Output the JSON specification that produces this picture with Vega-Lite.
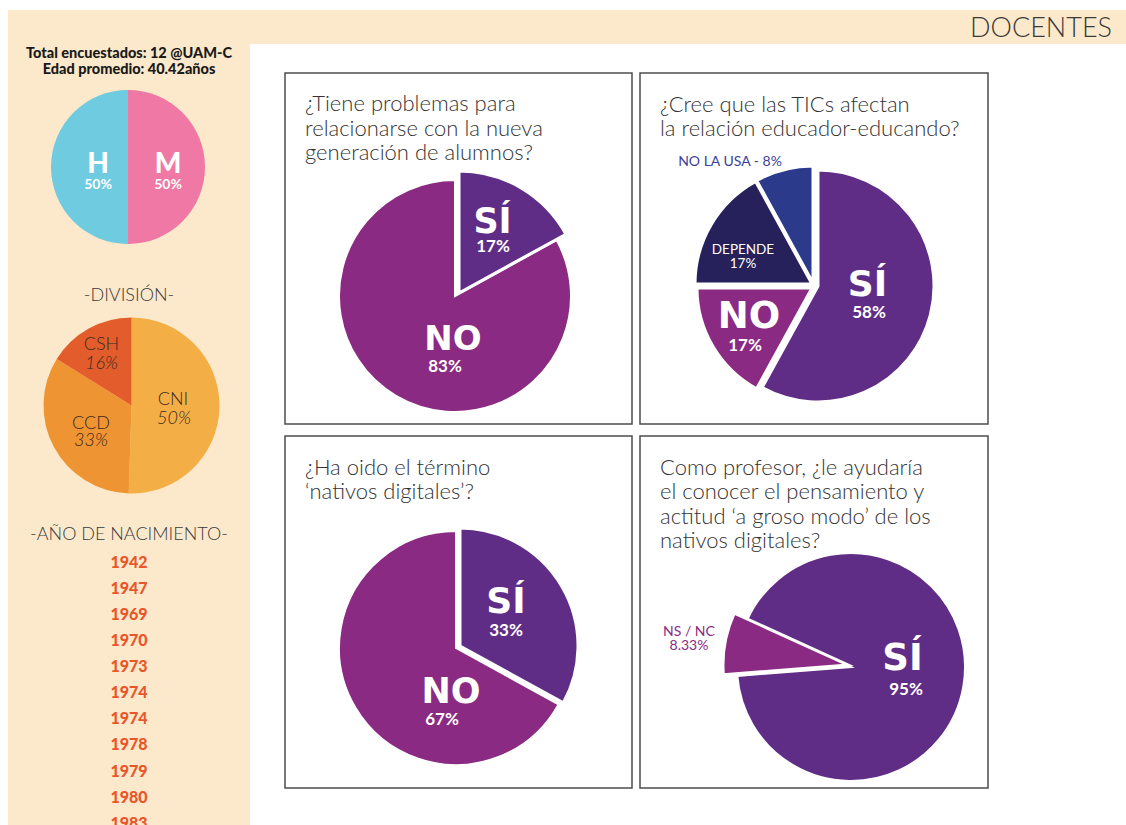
{
  "$schema": "https://vega.github.io/schema/vega-lite/v6.json",
  "padding": {"left": 8, "top": 10, "right": 0, "bottom": 0},
  "background": "white",
  "config": {"view": {"stroke": null}, "text": {"font": "Lato"}, "title": {"font": "Lato"}},
  "spacing": 0,
  "resolve": {"scale": {"theta": "independent"}},
  "vconcat": [
    {
      "width": 1118, "height": 34,
      "data": {"values": []},
      "mark": "point",
      "view": {"fill": "#fce9cb", "stroke": null},
      "title": {"text": "DOCENTES", "anchor": "end", "frame": "group", "offset": -33, "dx": -14, "fontSize": 27, "fontWeight": 300, "color": "#3a3a3a", "font": "Lato"}
    },
    {
      "hconcat": [
        {
          "vconcat": [
            {
              "width": 242, "height": 221,
              "view": {"fill": "#fce9cb", "stroke": null},
              "title": {"text": ["Total encuestados: 12 @UAM-C", "Edad promedio: 40.42años"], "anchor": "middle", "frame": "group", "offset": -33, "fontSize": 14.5, "fontWeight": 900, "color": "#1a1a1a", "lineHeight": 15.5, "font": "Lato"},
              "data": {"values": [{"k": 1, "a": "M", "v": 50, "p": "50%"}, {"k": 2, "a": "H", "v": 50, "p": "50%"}]},
              "transform": [{"stack": "v", "groupby": [], "sort": [{"field": "k", "order": "ascending"}], "as": ["t0", "t1"]}],
              "layer": [
                {"transform": [{"filter": "datum.a === 'M'"}], "mark": {"type": "arc", "radius": 77, "xOffset": -1, "yOffset": 12.5, "color": "#ef78a5"},
                 "encoding": {"theta": {"field": "t0", "type": "quantitative", "scale": {"domain": [0, 100]}}, "theta2": {"field": "t1"}}},
                {"transform": [{"filter": "datum.a === 'H'"}], "mark": {"type": "arc", "radius": 77, "xOffset": -1, "yOffset": 12.5, "color": "#6ecbe0"},
                 "encoding": {"theta": {"field": "t0", "type": "quantitative", "scale": {"domain": [0, 100]}}, "theta2": {"field": "t1"}}},
                {"transform": [{"filter": "datum.a === 'M'"}], "mark": {"type": "text", "dx": 39, "dy": 10.5, "fontSize": 28, "fontWeight": 900, "color": "white"}, "encoding": {"text": {"field": "a"}}},
                {"transform": [{"filter": "datum.a === 'M'"}], "mark": {"type": "text", "dx": 39, "dy": 30.5, "fontSize": 14, "fontWeight": 700, "color": "white"}, "encoding": {"text": {"field": "p"}}},
                {"transform": [{"filter": "datum.a === 'H'"}], "mark": {"type": "text", "dx": -31, "dy": 10.5, "fontSize": 28, "fontWeight": 900, "color": "white"}, "encoding": {"text": {"field": "a"}}},
                {"transform": [{"filter": "datum.a === 'H'"}], "mark": {"type": "text", "dx": -31, "dy": 30.5, "fontSize": 14, "fontWeight": 700, "color": "white"}, "encoding": {"text": {"field": "p"}}}
              ]
            },
            {
              "width": 242, "height": 255,
              "view": {"fill": "#fce9cb", "stroke": null},
              "title": {"text": "-DIVISIÓN-", "anchor": "middle", "frame": "group", "offset": -40, "fontSize": 18, "fontWeight": 300, "color": "#3a3a3a", "font": "Lato"},
              "data": {"values": [{"k": 1, "a": "CNI", "v": 50, "p": "50%"}, {"k": 2, "a": "CCD", "v": 33, "p": "33%"}, {"k": 3, "a": "CSH", "v": 16, "p": "16%"}]},
              "transform": [{"stack": "v", "groupby": [], "sort": [{"field": "k", "order": "ascending"}], "as": ["t0", "t1"]}],
              "layer": [
                {"transform": [{"filter": "datum.a === 'CNI'"}], "mark": {"type": "arc", "radius": 88, "xOffset": 2.5, "yOffset": 13, "color": "#f4ae46"},
                 "encoding": {"theta": {"field": "t0", "type": "quantitative", "scale": {"domain": [0, 99]}}, "theta2": {"field": "t1"}}},
                {"transform": [{"filter": "datum.a === 'CCD'"}], "mark": {"type": "arc", "radius": 88, "xOffset": 2.5, "yOffset": 13, "color": "#ee9433"},
                 "encoding": {"theta": {"field": "t0", "type": "quantitative", "scale": {"domain": [0, 99]}}, "theta2": {"field": "t1"}}},
                {"transform": [{"filter": "datum.a === 'CSH'"}], "mark": {"type": "arc", "radius": 88, "xOffset": 2.5, "yOffset": 13, "color": "#e25d2b"},
                 "encoding": {"theta": {"field": "t0", "type": "quantitative", "scale": {"domain": [0, 99]}}, "theta2": {"field": "t1"}}},
                {"transform": [{"filter": "datum.a === 'CNI'"}], "mark": {"type": "text", "dx": 44, "dy": 7.5, "fontSize": 18, "fontWeight": 300, "color": "#3b2a20"}, "encoding": {"text": {"field": "a"}}},
                {"transform": [{"filter": "datum.a === 'CNI'"}], "mark": {"type": "text", "dx": 45, "dy": 26.5, "fontSize": 18, "fontWeight": 300, "fontStyle": "italic", "color": "#3b2a20"}, "encoding": {"text": {"field": "p"}}},
                {"transform": [{"filter": "datum.a === 'CSH'"}], "mark": {"type": "text", "dx": -27.5, "dy": -47.5, "fontSize": 18, "fontWeight": 300, "color": "#3b2a20"}, "encoding": {"text": {"field": "a"}}},
                {"transform": [{"filter": "datum.a === 'CSH'"}], "mark": {"type": "text", "dx": -27.5, "dy": -28.5, "fontSize": 18, "fontWeight": 300, "fontStyle": "italic", "color": "#3b2a20"}, "encoding": {"text": {"field": "p"}}},
                {"transform": [{"filter": "datum.a === 'CCD'"}], "mark": {"type": "text", "dx": -38, "dy": 31.5, "fontSize": 18, "fontWeight": 300, "color": "#3b2a20"}, "encoding": {"text": {"field": "a"}}},
                {"transform": [{"filter": "datum.a === 'CCD'"}], "mark": {"type": "text", "dx": -38, "dy": 48, "fontSize": 18, "fontWeight": 300, "fontStyle": "italic", "color": "#3b2a20"}, "encoding": {"text": {"field": "p"}}}
              ]
            },
            {
              "width": 242, "height": 305,
              "view": {"fill": "#fce9cb", "stroke": null},
              "title": {"text": "-AÑO DE NACIMIENTO-", "anchor": "middle", "frame": "group", "offset": -24, "fontSize": 18, "fontWeight": 300, "color": "#3a3a3a", "font": "Lato"},
              "data": {"values": [
                {"n": 1, "year": "1942"}, {"n": 2, "year": "1947"}, {"n": 3, "year": "1969"}, {"n": 4, "year": "1970"},
                {"n": 5, "year": "1973"}, {"n": 6, "year": "1974"}, {"n": 7, "year": "1974"}, {"n": 8, "year": "1978"},
                {"n": 9, "year": "1979"}, {"n": 10, "year": "1980"}, {"n": 11, "year": "1983"}
              ]},
              "mark": {"type": "text", "fontSize": 16, "fontWeight": 900, "color": "#e8572a", "clip": true},
              "encoding": {
                "y": {"field": "n", "type": "ordinal", "scale": {"type": "point", "padding": 0, "range": [42.7, 303.7]}, "axis": null},
                "text": {"field": "year"}
              }
            }
          ],
          "spacing": 0,
          "resolve": {"scale": {"theta": "independent"}}
        },
        {
          "vconcat": [
            {"width": 10, "height": 18, "data": {"values": []}, "mark": "point"},
            {
              "hconcat": [
                {
                  "width": 347, "height": 351,
                  "view": {"stroke": "#4d4d4d", "strokeWidth": 1.5},
                  "title": {"text": ["¿Tiene problemas para", "relacionarse con la nueva", "generación de alumnos?"], "anchor": "start", "frame": "group", "offset": -92, "dx": 20, "fontSize": 22, "fontWeight": 300, "color": "#333333", "lineHeight": 24.5, "font": "Lato"},
                  "data": {"values": [{"k": 1, "a": "SÍ", "v": 17, "p": "17%"}, {"k": 2, "a": "NO", "v": 83, "p": "83%"}]},
                  "transform": [{"stack": "v", "groupby": [], "sort": [{"field": "k", "order": "ascending"}], "as": ["t0", "t1"]}],
                  "layer": [
                    {"transform": [{"filter": "datum.a === 'NO'"}], "mark": {"type": "arc", "radius": 116, "xOffset": -3.5, "yOffset": 47.5, "color": "#8a2a82", "stroke": "white", "strokeWidth": 2},
                     "encoding": {"theta": {"field": "t0", "type": "quantitative", "scale": {"domain": [0, 100]}}, "theta2": {"field": "t1"}}},
                    {"transform": [{"filter": "datum.a === 'SÍ'"}], "mark": {"type": "arc", "radius": 122, "xOffset": 0.5, "yOffset": 44.5, "color": "#5f2d86", "stroke": "white", "strokeWidth": 3},
                     "encoding": {"theta": {"field": "t0", "type": "quantitative", "scale": {"domain": [0, 100]}}, "theta2": {"field": "t1"}}},
                    {"transform": [{"filter": "datum.a === 'SÍ'"}], "mark": {"type": "text", "dx": 34, "dy": -26.5, "font": "DejaVu Sans", "fontSize": 35, "fontWeight": "bold", "color": "white"}, "encoding": {"text": {"field": "a"}}},
                    {"transform": [{"filter": "datum.a === 'SÍ'"}], "mark": {"type": "text", "dx": 34.5, "dy": -1.5, "fontSize": 17, "fontWeight": 700, "color": "white"}, "encoding": {"text": {"field": "p"}}},
                    {"transform": [{"filter": "datum.a === 'NO'"}], "mark": {"type": "text", "dx": -5.5, "dy": 91, "font": "DejaVu Sans", "fontSize": 34, "fontWeight": "bold", "color": "white"}, "encoding": {"text": {"field": "a"}}},
                    {"transform": [{"filter": "datum.a === 'NO'"}], "mark": {"type": "text", "dx": -13.5, "dy": 118, "fontSize": 17, "fontWeight": 700, "color": "white"}, "encoding": {"text": {"field": "p"}}}
                  ]
                },
                {
                  "width": 348, "height": 351,
                  "view": {"stroke": "#4d4d4d", "strokeWidth": 1.5},
                  "title": {"text": ["¿Cree que las TICs afectan", "la relación educador-educando?"], "anchor": "start", "frame": "group", "offset": -68, "dx": 20, "fontSize": 22, "fontWeight": 300, "color": "#333333", "lineHeight": 24.5, "font": "Lato"},
                  "data": {"values": [
                    {"k": 1, "a": "SÍ", "v": 58, "p": "58%", "lab": "SÍ - 58%"},
                    {"k": 2, "a": "NO", "v": 17, "p": "17%", "lab": "NO - 17%"},
                    {"k": 3, "a": "DEPENDE", "v": 17, "p": "17%", "lab": "DEPENDE - 17%"},
                    {"k": 4, "a": "NO LA USA", "v": 8, "p": "8%", "lab": "NO LA USA - 8%"}
                  ]},
                  "transform": [{"stack": "v", "groupby": [], "sort": [{"field": "k", "order": "ascending"}], "as": ["t0", "t1"]}],
                  "layer": [
                    {"transform": [{"filter": "datum.a === 'SÍ'"}], "mark": {"type": "arc", "radius": 116, "xOffset": 4, "yOffset": 37.5, "color": "#5f2d86", "stroke": "white", "strokeWidth": 3},
                     "encoding": {"theta": {"field": "t0", "type": "quantitative", "scale": {"domain": [0, 100]}}, "theta2": {"field": "t1"}}},
                    {"transform": [{"filter": "datum.a === 'NO'"}], "mark": {"type": "arc", "radius": 115, "xOffset": -2, "yOffset": 39.5, "color": "#8a2a82", "stroke": "white", "strokeWidth": 3},
                     "encoding": {"theta": {"field": "t0", "type": "quantitative", "scale": {"domain": [0, 100]}}, "theta2": {"field": "t1"}}},
                    {"transform": [{"filter": "datum.a === 'DEPENDE'"}], "mark": {"type": "arc", "radius": 117, "xOffset": -2, "yOffset": 35.5, "color": "#27215b", "stroke": "white", "strokeWidth": 3},
                     "encoding": {"theta": {"field": "t0", "type": "quantitative", "scale": {"domain": [0, 100]}}, "theta2": {"field": "t1"}}},
                    {"transform": [{"filter": "datum.a === 'NO LA USA'"}], "mark": {"type": "arc", "radius": 117, "xOffset": -1, "yOffset": 34.5, "color": "#2c3a8b", "stroke": "white", "strokeWidth": 3},
                     "encoding": {"theta": {"field": "t0", "type": "quantitative", "scale": {"domain": [0, 100]}}, "theta2": {"field": "t1"}}},
                    {"transform": [{"filter": "datum.a === 'SÍ'"}], "mark": {"type": "text", "dx": 53.5, "dy": 36.5, "font": "DejaVu Sans", "fontSize": 36, "fontWeight": "bold", "color": "white"}, "encoding": {"text": {"field": "a"}}},
                    {"transform": [{"filter": "datum.a === 'SÍ'"}], "mark": {"type": "text", "dx": 55, "dy": 64, "fontSize": 17, "fontWeight": 700, "color": "white"}, "encoding": {"text": {"field": "p"}}},
                    {"transform": [{"filter": "datum.a === 'NO'"}], "mark": {"type": "text", "dx": -65, "dy": 68, "font": "DejaVu Sans", "fontSize": 37, "fontWeight": "bold", "color": "white"}, "encoding": {"text": {"field": "a"}}},
                    {"transform": [{"filter": "datum.a === 'NO'"}], "mark": {"type": "text", "dx": -69, "dy": 97, "fontSize": 17, "fontWeight": 700, "color": "white"}, "encoding": {"text": {"field": "p"}}},
                    {"transform": [{"filter": "datum.a === 'DEPENDE'"}], "mark": {"type": "text", "dx": -71, "dy": 1.5, "fontSize": 13.5, "fontWeight": 400, "color": "white"}, "encoding": {"text": {"field": "a"}}},
                    {"transform": [{"filter": "datum.a === 'DEPENDE'"}], "mark": {"type": "text", "dx": -71, "dy": 15.5, "fontSize": 13.5, "fontWeight": 400, "color": "white"}, "encoding": {"text": {"field": "p"}}},
                    {"transform": [{"filter": "datum.a === 'NO LA USA'"}], "mark": {"type": "text", "dx": -84, "dy": -86.5, "fontSize": 14, "fontWeight": 400, "color": "#3a3f98"}, "encoding": {"text": {"field": "lab"}}}
                  ]
                }
              ],
              "spacing": 6,
              "resolve": {"scale": {"theta": "independent"}}
            },
            {
              "hconcat": [
                {
                  "width": 347, "height": 352,
                  "view": {"stroke": "#4d4d4d", "strokeWidth": 1.5},
                  "title": {"text": ["¿Ha oido el término", "‘nativos digitales’?"], "anchor": "start", "frame": "group", "offset": -68, "dx": 20, "fontSize": 22, "fontWeight": 300, "color": "#333333", "lineHeight": 24.5, "font": "Lato"},
                  "data": {"values": [{"k": 1, "a": "SÍ", "v": 33, "p": "33%"}, {"k": 2, "a": "NO", "v": 67, "p": "67%"}]},
                  "transform": [{"stack": "v", "groupby": [], "sort": [{"field": "k", "order": "ascending"}], "as": ["t0", "t1"]}],
                  "layer": [
                    {"transform": [{"filter": "datum.a === 'NO'"}], "mark": {"type": "arc", "radius": 117, "xOffset": -2.5, "yOffset": 36, "color": "#8a2a82", "stroke": "white", "strokeWidth": 2},
                     "encoding": {"theta": {"field": "t0", "type": "quantitative", "scale": {"domain": [0, 100]}}, "theta2": {"field": "t1"}}},
                    {"transform": [{"filter": "datum.a === 'SÍ'"}], "mark": {"type": "arc", "radius": 118, "xOffset": 1.5, "yOffset": 34, "color": "#5f2d86", "stroke": "white", "strokeWidth": 3},
                     "encoding": {"theta": {"field": "t0", "type": "quantitative", "scale": {"domain": [0, 100]}}, "theta2": {"field": "t1"}}},
                    {"transform": [{"filter": "datum.a === 'SÍ'"}], "mark": {"type": "text", "dx": 47.5, "dy": -10, "font": "DejaVu Sans", "fontSize": 36, "fontWeight": "bold", "color": "white"}, "encoding": {"text": {"field": "a"}}},
                    {"transform": [{"filter": "datum.a === 'SÍ'"}], "mark": {"type": "text", "dx": 47.5, "dy": 19, "fontSize": 17, "fontWeight": 700, "color": "white"}, "encoding": {"text": {"field": "p"}}},
                    {"transform": [{"filter": "datum.a === 'NO'"}], "mark": {"type": "text", "dx": -7.5, "dy": 79.5, "font": "DejaVu Sans", "fontSize": 35, "fontWeight": "bold", "color": "white"}, "encoding": {"text": {"field": "a"}}},
                    {"transform": [{"filter": "datum.a === 'NO'"}], "mark": {"type": "text", "dx": -16.5, "dy": 107.5, "fontSize": 17, "fontWeight": 700, "color": "white"}, "encoding": {"text": {"field": "p"}}}
                  ]
                },
                {
                  "width": 348, "height": 352,
                  "view": {"stroke": "#4d4d4d", "strokeWidth": 1.5},
                  "title": {"text": ["Como profesor, ¿le ayudaría", "el conocer el pensamiento y", "actitud ‘a groso modo’ de los", "nativos digitales?"], "anchor": "start", "frame": "group", "offset": -117, "dx": 20, "fontSize": 22, "fontWeight": 300, "color": "#333333", "lineHeight": 24.5, "font": "Lato"},
                  "data": {"values": [{"k": 1, "a": "NS / NC", "v": 8.33, "p": "8.33%"}, {"k": 2, "a": "SÍ", "v": 95, "p": "95%"}]},
                  "transform": [{"stack": "v", "groupby": [], "sort": [{"field": "k", "order": "ascending"}], "as": ["t0", "t1"]}],
                  "layer": [
                    {"transform": [{"filter": "datum.a === 'SÍ'"}], "mark": {"type": "arc", "radius": 114, "xOffset": 37, "yOffset": 55, "color": "#5f2d86", "stroke": "white", "strokeWidth": 2},
                     "encoding": {"theta": {"field": "t0", "type": "quantitative", "scale": {"domain": [0, 103.33], "range": [4.6338, 10.917]}}, "theta2": {"field": "t1"}}},
                    {"transform": [{"filter": "datum.a === 'NS / NC'"}], "mark": {"type": "arc", "radius": 125, "xOffset": 34, "yOffset": 53, "color": "#8a2a82", "stroke": "white", "strokeWidth": 3},
                     "encoding": {"theta": {"field": "t0", "type": "quantitative", "scale": {"domain": [0, 103.33], "range": [4.6338, 10.917]}}, "theta2": {"field": "t1"}}},
                    {"transform": [{"filter": "datum.a === 'SÍ'"}], "mark": {"type": "text", "dx": 88.5, "dy": 46.5, "font": "DejaVu Sans", "fontSize": 37, "fontWeight": "bold", "color": "white"}, "encoding": {"text": {"field": "a"}}},
                    {"transform": [{"filter": "datum.a === 'SÍ'"}], "mark": {"type": "text", "dx": 92, "dy": 77.5, "fontSize": 17, "fontWeight": 700, "color": "white"}, "encoding": {"text": {"field": "p"}}},
                    {"transform": [{"filter": "datum.a === 'NS / NC'"}], "mark": {"type": "text", "dx": -125, "dy": 20, "fontSize": 14, "fontWeight": 400, "color": "#8a2a82"}, "encoding": {"text": {"field": "a"}}},
                    {"transform": [{"filter": "datum.a === 'NS / NC'"}], "mark": {"type": "text", "dx": -125, "dy": 34, "fontSize": 14, "fontWeight": 400, "color": "#8a2a82"}, "encoding": {"text": {"field": "p"}}}
                  ]
                }
              ],
              "spacing": 6,
              "resolve": {"scale": {"theta": "independent"}}
            }
          ],
          "spacing": 10,
          "resolve": {"scale": {"theta": "independent"}}
        }
      ],
      "spacing": 34,
      "resolve": {"scale": {"theta": "independent"}}
    }
  ]
}
